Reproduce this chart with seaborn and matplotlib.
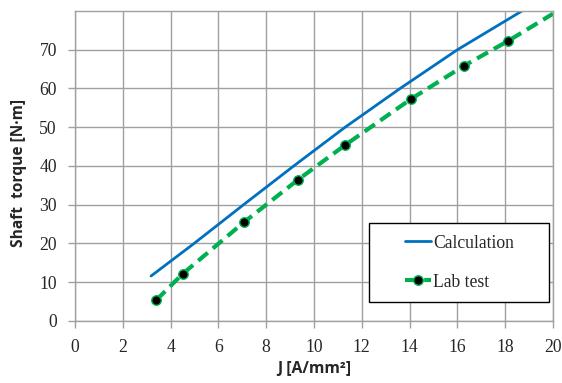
import seaborn as sns
import matplotlib.pyplot as plt
import pandas as pd
from matplotlib.patches import Rectangle

# values
calc_j = [3.18, 5.0, 7.05, 9.15, 11.3, 13.6, 16.0, 18.7]
calc_torque = [11.6, 20.1, 30.0, 40.0, 50.0, 60.0, 70.0, 80.0]

lab_j = [3.40, 4.51, 7.07, 9.34, 11.28, 14.06, 16.26, 18.13]
lab_torque = [5.4, 12.2, 25.5, 36.5, 45.3, 57.3, 65.8, 72.3]
# end of the dashed trend line (no marker)
trend_end_j = 20.0
trend_end_torque = 79.3

x_ticks = [0, 2, 4, 6, 8, 10, 12, 14, 16, 18, 20]
y_ticks = [0, 10, 20, 30, 40, 50, 60, 70]

calc = pd.DataFrame({"J": calc_j, "T": calc_torque})
lab = pd.DataFrame({"J": lab_j + [trend_end_j], "T": lab_torque + [trend_end_torque]})

sns.set_style("white")
plt.rcParams["font.family"] = ["Liberation Serif", "DejaVu Serif"]

fig = plt.figure(figsize=(5.62, 3.83), dpi=100)
ax = fig.add_axes([0.1335, 0.1619, 0.8505, 0.8094])

blue = "#0070C0"
green = "#00B050"

sns.lineplot(data=calc, x="J", y="T", ax=ax, color=blue, linewidth=2,
             label="Calculation", legend=False)
sns.lineplot(data=lab, x="J", y="T", ax=ax, color=green, linewidth=3,
             linestyle=(0, (3.0, 1.6)), marker="o", markersize=6.8,
             markerfacecolor="black", markeredgecolor=green, markeredgewidth=1,
             markevery=list(range(len(lab_j))), label="Lab test", legend=False)

ax.set_xlim(0, 20)
ax.set_ylim(0, 80)
ax.set_xticks(x_ticks)
ax.set_yticks(y_ticks)
ax.grid(True, color="#a0a0a0", linewidth=1)
for s in ax.spines.values():
    s.set_color("#a0a0a0")
    s.set_linewidth(1)
ax.tick_params(axis="both", labelsize=12.7, length=5, width=1, color="#a0a0a0",
               direction="out", left=True, bottom=True, pad=8)

ax.set_xlabel("J [A/mm²]", fontsize=11.3, fontweight="bold",
              family=["Open Sans", "DejaVu Sans"], va="center")
ax.set_ylabel("Shaft  torque [N·m]", fontsize=11.2, fontweight="bold",
              family=["Open Sans", "DejaVu Sans"], va="center")
ax.xaxis.set_label_coords(0.5, -0.155)
ax.yaxis.set_label_coords(-0.1165, 0.479)

# legend box
ax.add_patch(Rectangle((0.615, 0.061), 0.377, 0.255, transform=ax.transAxes,
                       facecolor="white", edgecolor="black", linewidth=1, zorder=5))
leg = ax.legend(loc="center", bbox_to_anchor=(0.615, 0.061, 0.377, 0.255),
                frameon=False, fontsize=12.7, handlelength=1.5, handletextpad=0.1,
                labelspacing=1.25, borderaxespad=0)
leg.set_zorder(6)

fig.savefig("out.png", dpi=100)
